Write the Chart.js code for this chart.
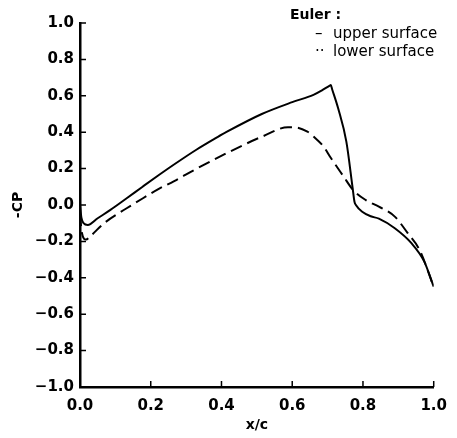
<!DOCTYPE html>
<html>
<head>
<meta charset="utf-8">
<script src="https://cdn.jsdelivr.net/npm/chart.js@4.4.0/dist/chart.umd.min.js"></script>
<style>
  html, body { margin: 0; padding: 0; background: #fff; }
  #wrap { width: 457px; height: 438px; position: relative; }
</style>
</head>
<body>
<div id="wrap"><canvas id="cp"></canvas></div>
<script>
// Euler pressure distribution, -Cp vs x/c
const upperX = [0.0, 0.004, 0.01, 0.022, 0.05, 0.086, 0.132, 0.178, 0.224, 0.27, 0.33, 0.386, 0.413, 0.514, 0.60, 0.66, 0.684, 0.705, 0.709, 0.713, 0.73, 0.753, 0.771, 0.776, 0.78, 0.80, 0.822, 0.845, 0.89, 0.937, 0.973, 1.0];
const upperY = [0.0, -0.07, -0.10, -0.11, -0.073, -0.027, 0.037, 0.102, 0.166, 0.228, 0.305, 0.37, 0.40, 0.50, 0.565, 0.605, 0.63, 0.655, 0.659, 0.635, 0.53, 0.348, 0.09, 0.018, 0.0, -0.04, -0.062, -0.075, -0.128, -0.21, -0.31, -0.449];

const lowerX = [0.0, 0.005, 0.017, 0.03, 0.068, 0.132, 0.178, 0.224, 0.265, 0.33, 0.42, 0.514, 0.588, 0.606, 0.643, 0.661, 0.689, 0.707, 0.744, 0.771, 0.808, 0.845, 0.89, 0.927, 0.96, 1.0];
const lowerY = [-0.05, -0.15, -0.19, -0.17, -0.10, -0.018, 0.037, 0.09, 0.13, 0.20, 0.29, 0.375, 0.427, 0.427, 0.403, 0.375, 0.32, 0.265, 0.16, 0.085, 0.027, -0.009, -0.064, -0.156, -0.247, -0.45];

const xTicks = [0.0, 0.2, 0.4, 0.6, 0.8, 1.0];
const yTicks = [-1.0, -0.8, -0.6, -0.4, -0.2, 0.0, 0.2, 0.4, 0.6, 0.8, 1.0];

const legendTitle = "Euler :";
const legendItems = [["\u2013", "upper surface"], ["\u00b7\u00b7", "lower surface"]];

const FONT = "DejaVu Sans";

const toPoints = (xs, ys) => xs.map((x, i) => ({ x: x, y: ys[i] }));
const fmt = v => (v < 0 ? "\u2212" : "") + Math.abs(v).toFixed(1);

// ticks point inward, drawn after the axes
const innerTicks = {
  id: "innerTicks",
  afterDraw(chart) {
    const { ctx, scales } = chart;
    const xs = scales.x, ys = scales.y;
    ctx.save();
    ctx.strokeStyle = "#000";
    ctx.lineWidth = 1.5;
    ctx.beginPath();
    yTicks.forEach(v => {
      const p = ys.getPixelForValue(v);
      ctx.moveTo(xs.left, p);
      ctx.lineTo(xs.left + 6, p);
    });
    xTicks.forEach(v => {
      const p = xs.getPixelForValue(v);
      ctx.moveTo(p, ys.bottom);
      ctx.lineTo(p, ys.bottom - 6);
    });
    ctx.stroke();

    ctx.fillStyle = "#000";
    ctx.textBaseline = "middle";
    ctx.font = "bold 14px " + FONT;
    ctx.fillText(legendTitle, 290, 15);
    ctx.font = "15px " + FONT;
    legendItems.forEach((it, i) => {
      const y = 34 + i * 18;
      ctx.fillText(it[0], 315, y);
      ctx.fillText(it[1], 333, y);
    });
    ctx.restore();
  }
};

new Chart(document.getElementById("cp"), {
  type: "scatter",
  data: {
    datasets: [
      {
        label: "upper surface",
        data: toPoints(upperX, upperY),
        showLine: true,
        borderColor: "#000",
        borderWidth: 2,
        pointRadius: 0,
        cubicInterpolationMode: "monotone"
      },
      {
        label: "lower surface",
        data: toPoints(lowerX, lowerY),
        showLine: true,
        borderColor: "#000",
        borderWidth: 2,
        borderDash: [12, 6],
        pointRadius: 0,
        cubicInterpolationMode: "monotone"
      }
    ]
  },
  options: {
    responsive: true,
    maintainAspectRatio: false,
    animation: false,
    layout: { padding: { top: 23, right: 14, left: 0, bottom: 0 } },
    plugins: { legend: { display: false }, tooltip: { enabled: false } },
    scales: {
      x: {
        type: "linear",
        min: 0, max: 1,
        afterFit: s => { s.height = 51; },
        afterBuildTicks: s => { s.ticks = xTicks.map(v => ({ value: v })); },
        grid: { display: false, drawTicks: false },
        border: { display: true, color: "#000", width: 2.5 },
        ticks: { color: "#000", padding: 10, maxRotation: 0, font: { family: FONT, size: 15, weight: "bold" }, callback: v => fmt(v) },
        title: { display: true, text: "x/c", color: "#000", padding: { top: 0, bottom: 4 }, font: { family: FONT, size: 14, weight: "bold" } }
      },
      y: {
        type: "linear",
        min: -1, max: 1,
        afterFit: s => { s.width = 80; },
        afterBuildTicks: s => { s.ticks = yTicks.map(v => ({ value: v })); },
        grid: { display: false, drawTicks: false },
        border: { display: true, color: "#000", width: 2.5 },
        ticks: { color: "#000", padding: 6, font: { family: FONT, size: 15, weight: "bold" }, callback: v => fmt(v) },
        title: { display: true, text: "-CP", color: "#000", padding: { top: 10, bottom: 0 }, font: { family: FONT, size: 14, weight: "bold" } }
      }
    }
  },
  plugins: [innerTicks]
});
</script>
</body>
</html>
